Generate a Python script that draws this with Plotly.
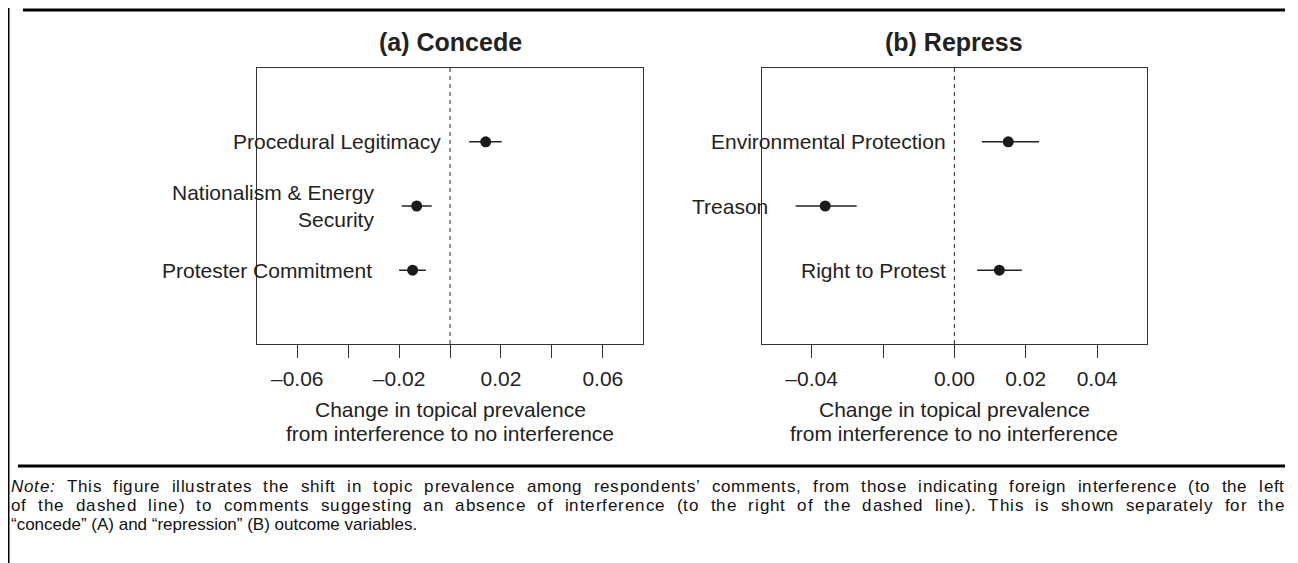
import plotly.graph_objects as go

# ---------------- data ----------------
concede_topics = ["Procedural Legitimacy", "Nationalism & Energy Security", "Protester Commitment"]
concede_labels = ["Procedural Legitimacy", "Nationalism & Energy<br>Security", "Protester Commitment"]
concede_est = [0.0140, -0.0131, -0.0147]
concede_lo = [0.0075, -0.0190, -0.0200]
concede_hi = [0.0203, -0.0072, -0.0095]

repress_topics = ["Environmental Protection", "Treason", "Right to Protest"]
repress_labels = ["Environmental Protection", "Treason", "Right to Protest"]
repress_est = [0.0151, -0.0362, 0.0126]
repress_lo = [0.0077, -0.0445, 0.0064]
repress_hi = [0.0237, -0.0274, 0.0189]

row_pos = [3, 2, 1]

concede_ticks = [-0.06, -0.04, -0.02, 0.0, 0.02, 0.04, 0.06]
concede_ticktext = ["\u20130.06", "", "\u20130.02", "", "0.02", "", "0.06"]
repress_ticks = [-0.04, -0.02, 0.0, 0.02, 0.04]
repress_ticktext = ["\u20130.04", "", "0.00", "0.02", "0.04"]

panel_titles = ["(a) Concede", "(b) Repress"]
axis_title_lines = ["Change in topical prevalence", "from interference to no interference"]
note_lines = [
    "<i>Note:</i> This figure illustrates the shift in topic prevalence among respondents\u2019 comments, from those indicating foreign interference (to the left",
    "of the dashed line) to comments suggesting an absence of interference (to the right of the dashed line). This is shown separately for the",
    "\u201cconcede\u201d (A) and \u201crepression\u201d (B) outcome variables.",
]
note_justified = [True, True, False]

# ---------------- layout constants ----------------
W, H = 1298, 563
OFF = 8  # default body margin of the html page
FONT = "Liberation Sans, Arial, Helvetica, sans-serif"
TXT = "#222222"
concede_label_shift = [-26, -26, -25]
repress_label_shift = [-34, -26, -29]
NOTE_SIZE = 17
TRACK_SHARE = 0.5


def px(xp):
    return (xp - OFF) / W


def py(yp):
    return 1 - (yp - OFF) / H


# Arial / Liberation Sans advance widths (1/1000 em)
_AW = {" ": 278, "!": 278, '"': 355, "&": 667, "'": 191, "(": 333, ")": 333, ",": 278,
       "-": 333, ".": 278, "/": 278, ":": 278, ";": 278, "?": 556,
       "\u2018": 222, "\u2019": 222, "\u201c": 333, "\u201d": 333}
_AW.update({c: 556 for c in "0123456789"})
_AW.update(dict(zip("ABCDEFGHIJKLMNOPQRSTUVWXYZ",
                    [667, 667, 722, 722, 667, 611, 778, 722, 278, 500, 667, 556, 833,
                     722, 778, 667, 778, 722, 667, 611, 722, 667, 944, 667, 667, 611])))
_AW.update(dict(zip("abcdefghijklmnopqrstuvwxyz",
                    [556, 556, 500, 556, 556, 278, 556, 556, 222, 222, 500, 222, 833,
                     556, 556, 556, 556, 333, 500, 278, 556, 500, 722, 500, 500, 500])))


def parse_chars(s):
    """Return list of (char, italic) from a string with <i>..</i> tags."""
    out, italic, i = [], False, 0
    while i < len(s):
        if s.startswith("<i>", i):
            italic, i = True, i + 3
        elif s.startswith("</i>", i):
            italic, i = False, i + 4
        else:
            out.append((s[i], italic))
            i += 1
    return out


fig = go.Figure()

panels = [
    (concede_est, concede_lo, concede_hi, concede_labels, concede_label_shift, "x", "y"),
    (repress_est, repress_lo, repress_hi, repress_labels, repress_label_shift, "x2", "y2"),
]

annotations = []
shapes = []
for est, lo, hi, labels, shifts, xa, ya in panels:
    fig.add_trace(go.Scatter(
        x=est, y=row_pos, mode="markers", xaxis=xa, yaxis=ya,
        marker=dict(size=11, color="#1a1a1a"),
        error_x=dict(type="data", symmetric=False,
                     array=[h - e for h, e in zip(hi, est)],
                     arrayminus=[e - l for e, l in zip(est, lo)],
                     width=0, thickness=1.4, color="#222222"),
        showlegend=False, hoverinfo="skip", cliponaxis=False,
    ))
    for lab, l, r, s in zip(labels, lo, row_pos, shifts):
        annotations.append(dict(
            x=l, y=r, xref=xa, yref=ya, text=lab, showarrow=False,
            xanchor="right", yanchor="middle", align="right", xshift=s,
            font=dict(family=FONT, size=21, color=TXT),
        ))
    shapes.append(dict(
        type="line", xref=xa, yref=ya + " domain", x0=0, x1=0, y0=0, y1=1,
        line=dict(color="#222222", width=1, dash="4px,4px"),
    ))

axis_common = dict(
    showgrid=False, zeroline=False, showline=True, mirror=True,
    linecolor="#333333", linewidth=1.3,
)
xtick_common = dict(ticks="outside", ticklen=13, tickwidth=1.2, tickcolor="#333333",
                    tickfont=dict(family=FONT, size=21, color=TXT), ticklabelstandoff=3)
fig.update_layout(
    width=W, height=H, autosize=False,
    margin=dict(l=0, r=0, t=0, b=0),
    paper_bgcolor="white", plot_bgcolor="white",
    font=dict(family=FONT, color=TXT),
    xaxis=dict(domain=[px(257.3), px(643.3)], range=[-0.0757, 0.0759],
               tickvals=concede_ticks, ticktext=concede_ticktext,
               anchor="y", **xtick_common, **axis_common),
    yaxis=dict(domain=[py(344), py(68)], range=[-0.15, 4.15],
               showticklabels=False, ticks="", anchor="x", **axis_common),
    xaxis2=dict(domain=[px(761.7), px(1146.7)], range=[-0.0540, 0.0539],
                tickvals=repress_ticks, ticktext=repress_ticktext,
                anchor="y2", **xtick_common, **axis_common),
    yaxis2=dict(domain=[py(344), py(68)], range=[-0.15, 4.15],
                showticklabels=False, ticks="", anchor="x2", **axis_common),
)

# panel titles and axis titles
for title, cx in zip(panel_titles, [450.3, 954.2]):
    annotations.append(dict(
        x=px(cx), y=py(42), xref="paper", yref="paper", text="<b>" + title + "</b>",
        showarrow=False, xanchor="center", yanchor="middle",
        font=dict(family=FONT, size=25, color=TXT),
    ))
    for line, yy in zip(axis_title_lines, [409, 433]):
        annotations.append(dict(
            x=px(cx), y=py(yy), xref="paper", yref="paper", text=line,
            showarrow=False, xanchor="center", yanchor="middle",
            font=dict(family=FONT, size=21, color=TXT),
        ))

# note: first two lines justified between NOTE_L and NOTE_R
NOTE_L, NOTE_R = 11, 1284
for line, yy, just in zip(note_lines, [486, 505, 524], note_justified):
    if just:
        chars = parse_chars(line)
        widths = [_AW.get(c, 556) * NOTE_SIZE / 1000.0 for c, _ in chars]
        extra = (NOTE_R - NOTE_L) - sum(widths)
        n_sp = sum(1 for c, _ in chars if c == " ")
        track = TRACK_SHARE * extra / (len(chars) - 1)
        word_extra = (1 - TRACK_SHARE) * extra / n_sp
        x = NOTE_L
        for (c, it), wd in zip(chars, widths):
            if c != " ":
                annotations.append(dict(
                    x=px(x), y=py(yy), xref="paper", yref="paper",
                    text=("<i>" + c + "</i>") if it else c,
                    showarrow=False, xanchor="left", yanchor="middle",
                    borderpad=0, borderwidth=0,
                    font=dict(family=FONT, size=NOTE_SIZE, color="#111111"),
                ))
            x += wd + track + (word_extra if c == " " else 0)
    else:
        annotations.append(dict(
            x=px(NOTE_L), y=py(yy), xref="paper", yref="paper", text=line,
            showarrow=False, xanchor="left", yanchor="middle", align="left",
            borderpad=0, borderwidth=0,
            font=dict(family=FONT, size=NOTE_SIZE, color="#111111"),
        ))

# frame lines
shapes += [
    dict(type="line", xref="paper", yref="paper", x0=px(8.5), x1=px(8.5), y0=0, y1=1,
         line=dict(color="black", width=2)),
    dict(type="line", xref="paper", yref="paper", x0=px(23), x1=px(1285), y0=py(10), y1=py(10),
         line=dict(color="black", width=3)),
    dict(type="line", xref="paper", yref="paper", x0=px(18), x1=px(1285), y0=py(466), y1=py(466),
         line=dict(color="black", width=3)),
]

fig.update_layout(annotations=annotations, shapes=shapes)
fig.write_html("out.html")
